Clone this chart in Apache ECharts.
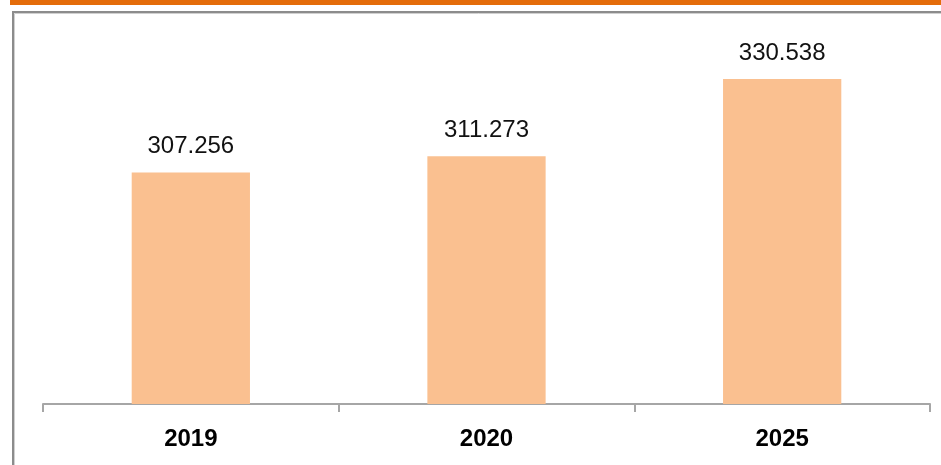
<!DOCTYPE html>
<html>
<head>
<meta charset="utf-8">
<script src="https://cdn.jsdelivr.net/npm/echarts@6/dist/echarts.min.js"></script>
<style>
html,body{margin:0;padding:0;background:#fff;}
#chart{width:941px;height:465px;}
</style>
</head>
<body>
<div id="chart"></div>
<script>
const categories = ['2019', '2020', '2025'];
const values = [307.256, 311.273, 330.538];

const chart = echarts.init(document.getElementById('chart'), null, {renderer: 'canvas'});
chart.setOption({
  animation: false,
  backgroundColor: '#ffffff',
  graphic: [
    {type: 'rect', shape: {x: 10, y: 0, width: 940, height: 5}, style: {fill: '#E46C0A'}, silent: true},
    {type: 'rect', shape: {x: 13, y: 12, width: 1200, height: 1200}, style: {fill: 'none', stroke: '#8c8c8c', lineWidth: 2}, silent: true},
    {type: 'rect', shape: {x: 14.5, y: 13.5, width: 1200, height: 1200}, style: {fill: 'none', stroke: '#d0d0d0', lineWidth: 1}, silent: true}
  ],
  grid: {left: 43, right: 11, top: 41, bottom: 61, containLabel: false},
  xAxis: {
    type: 'category',
    data: categories,
    boundaryGap: true,
    axisLine: {show: true, lineStyle: {color: '#a6a6a6', width: 2}},
    axisTick: {show: true, length: 8, lineStyle: {color: '#a6a6a6', width: 2}},
    axisLabel: {
      margin: 23,
      fontFamily: 'Liberation Sans',
      fontSize: 24,
      fontWeight: 'bold',
      color: '#000000'
    }
  },
  yAxis: {
    type: 'value',
    min: 249.6,
    max: 340,
    show: false,
    splitLine: {show: false}
  },
  series: [{
    type: 'bar',
    data: values,
    barWidth: '40%',
    itemStyle: {color: '#FAC090'},
    label: {
      show: true,
      position: 'top',
      distance: 14,
      fontFamily: 'Liberation Sans',
      fontSize: 24,
      color: '#111111',
      formatter: function (p) { return p.value.toFixed(3); }
    }
  }]
});
</script>
</body>
</html>
